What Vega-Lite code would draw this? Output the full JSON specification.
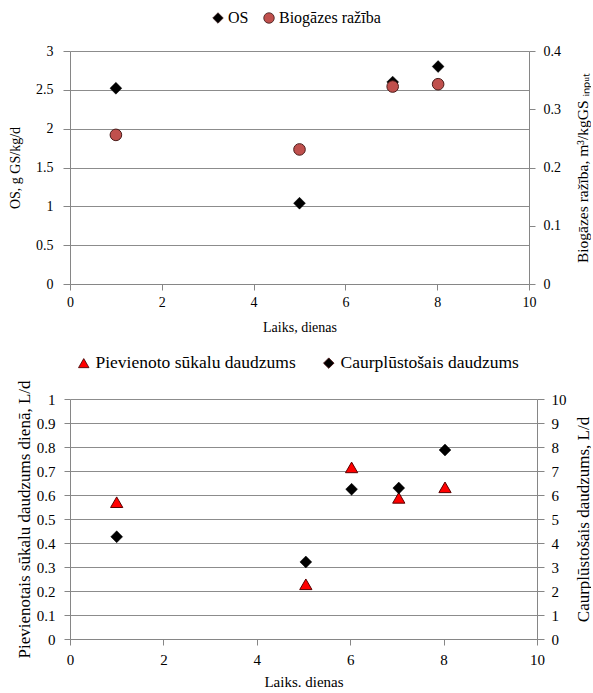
{
  "$schema": "https://vega.github.io/schema/vega-lite/v6.json",
  "padding": {"left": 8, "top": 10, "right": 0, "bottom": 0},
  "spacing": 20,
  "align": "none",
  "config": {
    "font": "Liberation Serif",
    "view": {"stroke": null},
    "axis": {
      "labelFont": "Liberation Serif",
      "titleFont": "Liberation Serif",
      "labelColor": "#000000",
      "titleColor": "#000000",
      "titleFontWeight": "normal",
      "domainColor": "#868686",
      "tickColor": "#868686",
      "gridColor": "#8c8c8c",
      "gridOpacity": 1,
      "labelFlush": false,
      "labelOverlap": false
    },
    "legend": {
      "labelFont": "Liberation Serif",
      "labelColor": "#000000",
      "labelLimit": 0
    }
  },
  "datasets": {
    "augsa": [
      {"laiks": 1, "serija": "OS", "vertiba": 2.52},
      {"laiks": 5, "serija": "OS", "vertiba": 1.04},
      {"laiks": 7.03, "serija": "OS", "vertiba": 2.6},
      {"laiks": 8.02, "serija": "OS", "vertiba": 2.8},
      {"laiks": 1, "serija": "Biogāzes ražība", "vertiba": 0.256},
      {"laiks": 5, "serija": "Biogāzes ražība", "vertiba": 0.231},
      {"laiks": 7.03, "serija": "Biogāzes ražība", "vertiba": 0.339},
      {"laiks": 8.02, "serija": "Biogāzes ražība", "vertiba": 0.343}
    ],
    "apaksa": [
      {"laiks": 1, "serija": "Pievienoto sūkalu daudzums", "vertiba": 0.57},
      {"laiks": 5.05, "serija": "Pievienoto sūkalu daudzums", "vertiba": 0.228},
      {"laiks": 6.03, "serija": "Pievienoto sūkalu daudzums", "vertiba": 0.715},
      {"laiks": 7.04, "serija": "Pievienoto sūkalu daudzums", "vertiba": 0.588},
      {"laiks": 8.03, "serija": "Pievienoto sūkalu daudzums", "vertiba": 0.632},
      {"laiks": 1, "serija": "Caurplūstošais daudzums", "vertiba": 4.26},
      {"laiks": 5.05, "serija": "Caurplūstošais daudzums", "vertiba": 3.21},
      {"laiks": 6.03, "serija": "Caurplūstošais daudzums", "vertiba": 6.24},
      {"laiks": 7.04, "serija": "Caurplūstošais daudzums", "vertiba": 6.29},
      {"laiks": 8.03, "serija": "Caurplūstošais daudzums", "vertiba": 7.875}
    ]
  },
  "vconcat": [
    {
      "width": 459,
      "height": 233,
      "data": {"name": "augsa"},
      "encoding": {
        "x": {
          "field": "laiks",
          "type": "quantitative",
          "scale": {"domain": [0, 10], "nice": false},
          "axis": {
            "title": "Laiks, dienas",
            "values": [0, 2, 4, 6, 8, 10],
            "format": "~f",
            "grid": false,
            "tickSize": 6,
            "labelPadding": 5,
            "labelFont": "Liberation Serif",
            "labelFontSize": 14,
            "titleFontSize": 14,
            "titlePadding": 11
          }
        },
        "color": {
          "field": "serija",
          "type": "nominal",
          "scale": {"domain": ["OS", "Biogāzes ražība"], "range": ["#000000", "#c0504d"]},
          "legend": {
            "orient": "none",
            "legendX": 140,
            "legendY": -41,
            "direction": "horizontal",
            "title": null,
            "labelFontSize": 16,
            "symbolSize": 110,
            "labelOffset": 2,
            "columnPadding": 12,
            "symbolStrokeColor": "#3a1a1a",
            "symbolStrokeWidth": 0.8
          }
        },
        "shape": {
          "field": "serija",
          "type": "nominal",
          "scale": {"domain": ["OS", "Biogāzes ražība"], "range": ["diamond", "circle"]}
        }
      },
      "layer": [
        {
          "transform": [{"filter": "datum.serija === 'OS'"}],
          "mark": {"type": "point", "filled": true, "opacity": 1, "size": 140, "stroke": "#000000", "strokeWidth": 0.5},
          "encoding": {
            "y": {
              "field": "vertiba",
              "type": "quantitative",
              "scale": {"domain": [0, 3], "nice": false},
              "axis": {
                "orient": "left",
                "title": "OS, g GS/kg/d",
                "values": [0, 0.5, 1, 1.5, 2, 2.5, 3],
                "format": "~f",
                "grid": true,
                "tickSize": 7,
                "labelPadding": 10,
                "labelFont": "Liberation Serif",
                "labelFontSize": 14,
                "titleFontSize": 14,
                "titlePadding": 13
              }
            }
          }
        },
        {
          "transform": [{"filter": "datum.serija === 'Biogāzes ražība'"}],
          "mark": {"type": "point", "filled": true, "opacity": 1, "size": 135, "stroke": "#4a1c1a", "strokeWidth": 1},
          "encoding": {
            "y": {
              "field": "vertiba",
              "type": "quantitative",
              "scale": {"domain": [0, 0.4], "nice": false},
              "axis": {
                "orient": "right",
                "title": "Biogāzes ražība, m³/kgGS ᵢₙₚᵤₜ",
                "titleAngle": 270,
                "titleBaseline": "top",
                "values": [0, 0.1, 0.2, 0.3, 0.4],
                "format": "~f",
                "grid": false,
                "tickSize": 6,
                "labelPadding": 8,
                "labelFont": "Liberation Serif",
                "labelFontSize": 14,
                "titleFontSize": 15.5,
                "titlePadding": 15
              }
            }
          }
        }
      ],
      "resolve": {"scale": {"y": "independent"}}
    },
    {
      "width": 467,
      "height": 240,
      "data": {"name": "apaksa"},
      "encoding": {
        "x": {
          "field": "laiks",
          "type": "quantitative",
          "scale": {"domain": [0, 10], "nice": false},
          "axis": {
            "title": "Laiks. dienas",
            "values": [0, 2, 4, 6, 8, 10],
            "format": "~f",
            "grid": false,
            "tickSize": 6,
            "labelPadding": 7,
            "labelFont": "Liberation Serif",
            "labelFontSize": 15,
            "titleFontSize": 15,
            "titlePadding": 7
          }
        },
        "color": {
          "field": "serija",
          "type": "nominal",
          "scale": {"domain": ["Pievienoto sūkalu daudzums", "Caurplūstošais daudzums"], "range": ["#ff0000", "#000000"]},
          "legend": {
            "orient": "none",
            "legendX": 5,
            "legendY": -45,
            "direction": "horizontal",
            "title": null,
            "labelFontSize": 17.5,
            "symbolSize": 110,
            "labelOffset": 3,
            "columnPadding": 24,
            "symbolStrokeColor": "#3a0000",
            "symbolStrokeWidth": 0.8
          }
        },
        "shape": {
          "field": "serija",
          "type": "nominal",
          "scale": {"domain": ["Pievienoto sūkalu daudzums", "Caurplūstošais daudzums"], "range": ["triangle-up", "diamond"]}
        }
      },
      "layer": [
        {
          "transform": [{"filter": "datum.serija === 'Pievienoto sūkalu daudzums'"}],
          "mark": {"type": "point", "filled": true, "opacity": 1, "size": 150, "stroke": "#5a0000", "strokeWidth": 1},
          "encoding": {
            "y": {
              "field": "vertiba",
              "type": "quantitative",
              "scale": {"domain": [0, 1], "nice": false},
              "axis": {
                "orient": "left",
                "title": "Pievienotais sūkalu daudzums dienā, L/d",
                "values": [0, 0.1, 0.2, 0.3, 0.4, 0.5, 0.6, 0.7, 0.8, 0.9, 1],
                "format": "~f",
                "grid": true,
                "tickSize": 6,
                "labelPadding": 9,
                "labelFont": "Liberation Serif",
                "labelFontSize": 15,
                "titleFontSize": 17,
                "titlePadding": 3
              }
            }
          }
        },
        {
          "transform": [{"filter": "datum.serija === 'Caurplūstošais daudzums'"}],
          "mark": {"type": "point", "filled": true, "opacity": 1, "size": 140, "stroke": "#000000", "strokeWidth": 0.5},
          "encoding": {
            "y": {
              "field": "vertiba",
              "type": "quantitative",
              "scale": {"domain": [0, 10], "nice": false},
              "axis": {
                "orient": "right",
                "title": "Caurplūstošais daudzums, L/d",
                "titleAngle": 270,
                "titleBaseline": "top",
                "values": [0, 1, 2, 3, 4, 5, 6, 7, 8, 9, 10],
                "format": "~f",
                "grid": false,
                "tickSize": 7,
                "labelPadding": 7,
                "labelFont": "Liberation Serif",
                "labelFontSize": 15,
                "titleFontSize": 17,
                "titlePadding": 9
              }
            }
          }
        }
      ],
      "resolve": {"scale": {"y": "independent"}}
    }
  ],
  "resolve": {"scale": {"color": "independent", "shape": "independent"}}
}
